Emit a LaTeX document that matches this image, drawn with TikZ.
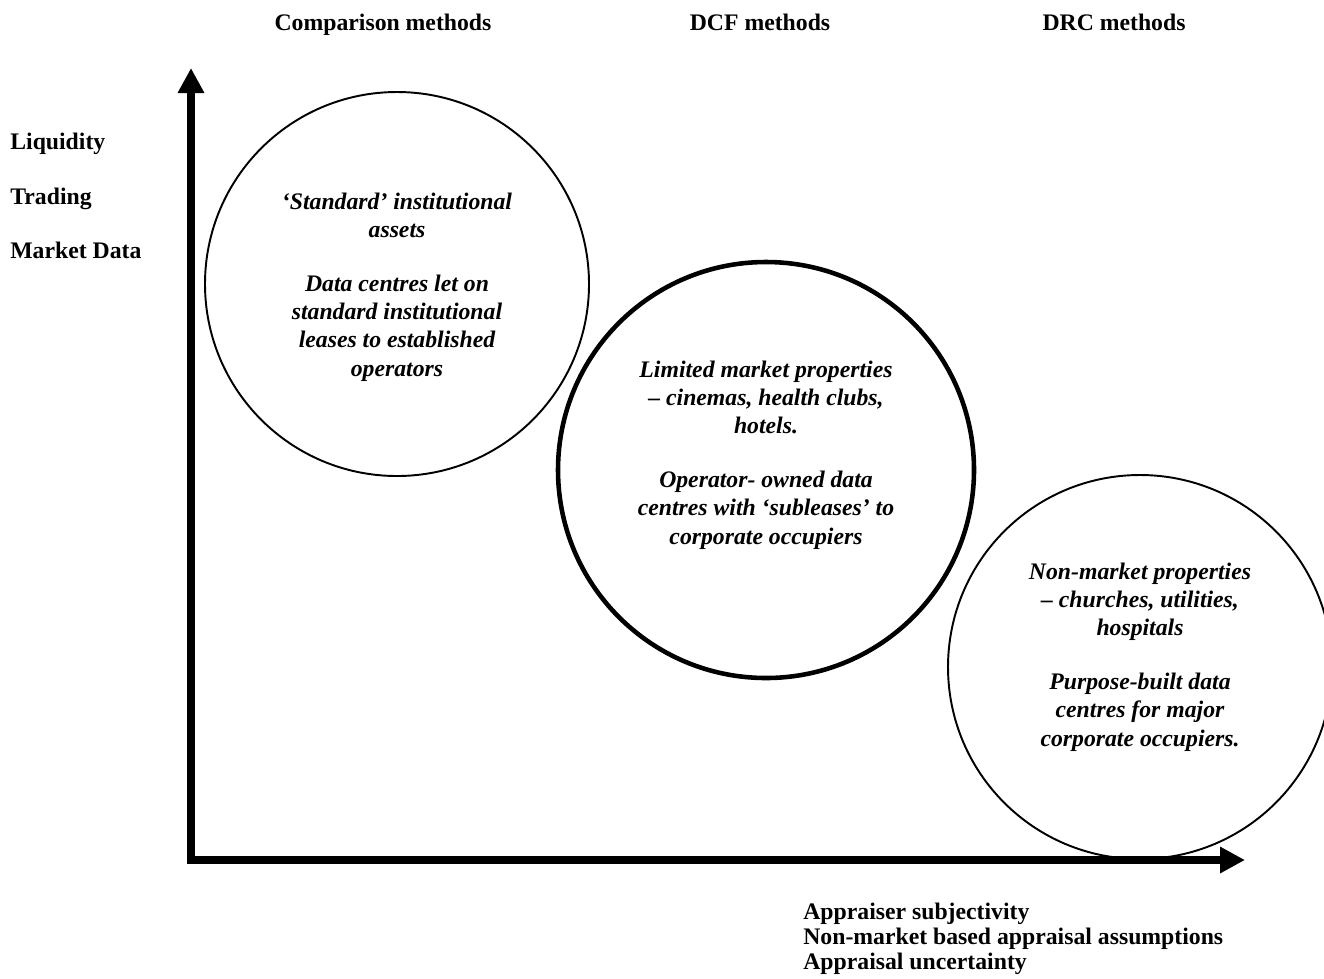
\documentclass[tikz,border=0pt]{standalone}
\usepackage{fontspec}
\setmainfont{Liberation Serif}
\usetikzlibrary{positioning, arrows.meta}

\begin{document}
\begin{tikzpicture}[
        font=\fontsize{13.5}{16}\selectfont\bfseries,
        heading/.style={anchor=base, inner sep=0pt},
        sidelabel/.style={anchor=base west, inner sep=0pt},
        bubble/.style={circle, draw, inner sep=0pt, line width=1.1pt},
        bubbletext/.style={align=center, inner sep=0pt,
          font=\fontsize{13.5}{16}\selectfont\bfseries\itshape},
        axis/.style={draw, line width=4.5pt,
          {Triangle[length=0.5cm, width=0.5cm]}-{Triangle[length=0.5cm, width=0.5cm]}}
      ]
      \useasboundingbox (0,0) rectangle (26.48,-19.56);

      \node [heading] (h_comp) at (7.66, -0.6) {Comparison methods};
      \node [heading] (h_dcf) at (15.2, -0.6) {DCF methods};
      \node [heading] (h_drc) at (22.28, -0.6) {DRC methods};

      \node [sidelabel] (l_liq) at (0.2, -2.98) {Liquidity};
      \node [sidelabel] (l_trade) at (0.2, -4.08) {Trading};
      \node [sidelabel] (l_data) at (0.2, -5.17) {Market Data};

      \node [bubble, minimum size=7.68cm] (c_comp) at (7.94, -5.68) {};
      \node [bubble, minimum size=8.32cm, line width=2.6pt] (c_dcf) at
      (15.32, -9.4) {};
      \node [bubble, minimum size=7.68cm] (c_drc) at (22.8, -13.34) {};

      \node [bubbletext] (t_comp) at ([yshift=-0.06cm]c_comp.center)
      {‘Standard’ institutional\\assets\\[1.1em]Data centres let on\\standard
      institutional\\leases to established\\operators};
      \node [bubbletext] (t_dcf) at ([yshift=0.3cm]c_dcf.center)
      {Limited market properties\\– cinemas, health
      clubs,\\hotels.\\[1.1em]Operator- owned data\\centres with
      ‘subleases’ to\\corporate occupiers};
      \node [bubbletext] (t_drc) at ([yshift=0.2cm]c_drc.center)
      {Non-market properties\\– churches, utilities,\\hospitals\\[1.1em]Purpose-built
      data\\centres for major\\corporate occupiers.};

      \coordinate (y_top) at (3.82, -1.36);
      \coordinate (origin) at (3.82, -17.2);
      \coordinate (x_end) at (24.9, -17.2);
      \path [axis] (y_top) -- (origin) -- (x_end);

      \node [anchor=north west, align=left, inner sep=0pt,
      font=\fontsize{13.5}{14.2}\selectfont\bfseries] (x_label) at
      (16.06, -18.05) {Appraiser subjectivity\\Non-market based appraisal
      assumptions\\Appraisal uncertainty};

    \end{tikzpicture}
\end{document}
